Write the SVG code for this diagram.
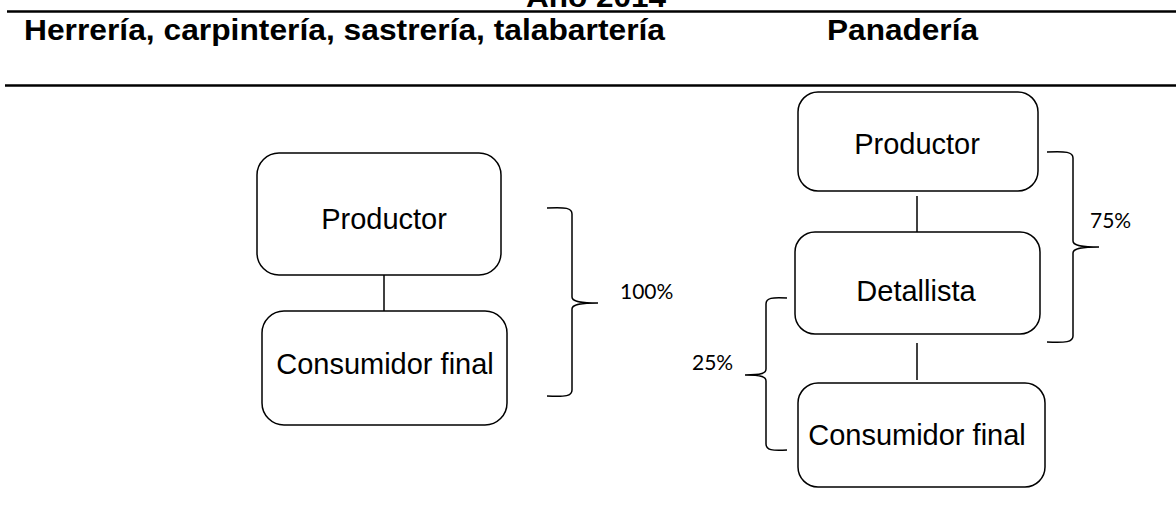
<svg xmlns="http://www.w3.org/2000/svg" width="1176" height="514" viewBox="0 0 1176 514">
<style>
.hdr{font-family:"Liberation Sans",Arial,sans-serif;font-weight:bold;font-size:30px;fill:#000}
.box{fill:#fff;stroke:#000;stroke-width:1.5}
.lbl{font-family:"Liberation Sans",Arial,sans-serif;font-size:29px;fill:#000;text-anchor:middle}
.pct{font-family:Lato,"Open Sans",sans-serif;font-size:21px;fill:#000}
.rule{stroke:#000;stroke-width:2.5}
.con{stroke:#000;stroke-width:1.5;fill:none}
</style>
<rect width="1176" height="514" fill="#fff"/>
<g id="header">
<text class="hdr" x="596" y="7" text-anchor="middle" textLength="140" lengthAdjust="spacingAndGlyphs">Año 2014</text>
<line class="rule" x1="7" y1="11.5" x2="1176" y2="11.5"/>
<text class="hdr" x="24" y="40" textLength="641" lengthAdjust="spacingAndGlyphs">Herrería, carpintería, sastrería, talabartería</text>
<text class="hdr" x="827" y="40" textLength="151" lengthAdjust="spacingAndGlyphs">Panadería</text>
<line class="rule" x1="5" y1="85.5" x2="1176" y2="85.5"/>
</g>
<g id="connectors">
<line class="con" x1="384" y1="275" x2="384" y2="311"/>
<line class="con" x1="917" y1="196" x2="917" y2="233"/>
<line class="con" x1="917" y1="343" x2="917" y2="380"/>
<path class="con" d="M547,208 C566,207 572,208 572,214 L572,297 C572,301 578,303 598,303 C578,303 572,305 572,309 L572,390 C572,396 566,397 547,396"/>
<path class="con" d="M1047,152 C1066,151 1073,152 1073,158 L1073,241 C1073,245 1079,247 1099,247 C1079,247 1073,249 1073,253 L1073,336 C1073,342 1066,343 1047,342"/>
<path class="con" d="M787,298 C772,297 766,298 766,304 L766,369 C766,373 762,375 745,375 C762,375 766,377 766,381 L766,444 C766,450 772,451 787,450"/>
</g>
<g id="l-productor">
<rect class="box" x="257" y="153" width="244" height="122" rx="22"/>
<text class="lbl" x="384" y="229">Productor</text>
</g>
<g id="l-consumidor">
<rect class="box" x="262" y="311" width="245" height="114" rx="22"/>
<text class="lbl" x="385" y="374">Consumidor final</text>
</g>
<g id="l-pct">
<text class="pct" x="620" y="299">100%</text>
</g>
<g id="r-productor">
<rect class="box" x="798" y="92" width="240" height="99" rx="20"/>
<text class="lbl" x="917" y="154">Productor</text>
</g>
<g id="r-detallista">
<rect class="box" x="795" y="232" width="245" height="102" rx="20"/>
<text class="lbl" x="916" y="301">Detallista</text>
</g>
<g id="r-consumidor">
<rect class="box" x="798" y="383" width="247" height="104" rx="20"/>
<text class="lbl" x="917" y="445">Consumidor final</text>
</g>
<g id="r-pct">
<text class="pct" x="1090" y="228">75%</text>
<text class="pct" x="692" y="370">25%</text>
</g>
</svg>
